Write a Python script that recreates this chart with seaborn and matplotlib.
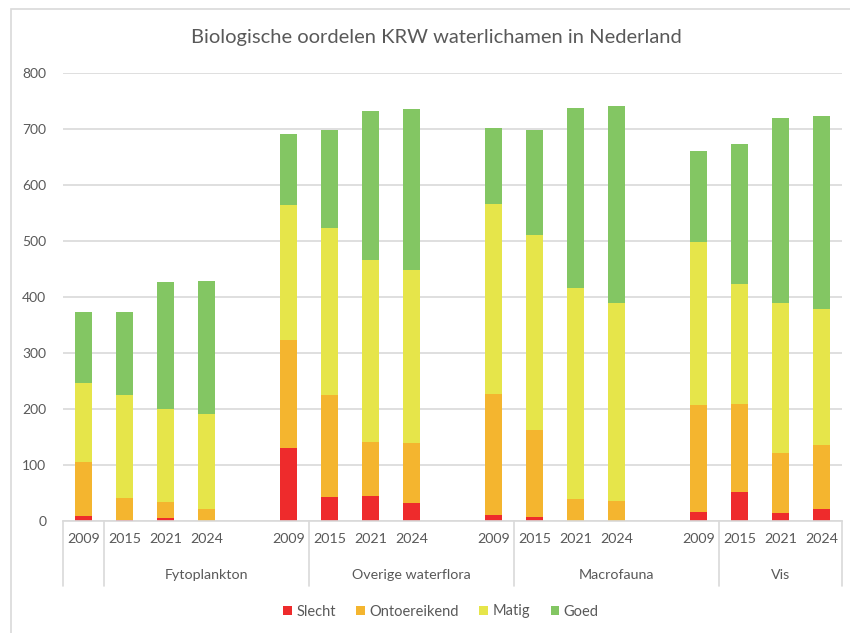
"""
Biologische oordelen KRW waterlichamen in Nederland
Stacked bar chart (seaborn)
"""

# ==========================
# Import Libraries
# ==========================

import numpy as np
import pandas as pd
import matplotlib.pyplot as plt
import matplotlib.transforms as mtransforms
from matplotlib.patches import Patch, Rectangle
import seaborn as sns

# ==========================
# Data
# ==========================

groups = ["Fytoplankton", "Overige waterflora", "Macrofauna", "Vis"]
years = ["2009", "2015", "2021", "2024"]

slecht = [9, 2, 4, 0, 129, 42, 44, 31, 11, 7, 0, 0, 16, 51, 14, 21]
ontoereikend = [95, 39, 30, 21, 193, 182, 97, 108, 215, 155, 39, 36, 190, 158, 107, 115]
matig = [142, 183, 165, 170, 241, 299, 324, 309, 339, 349, 377, 352, 292, 214, 267, 242]
goed = [127, 149, 227, 237, 128, 175, 267, 287, 137, 187, 321, 352, 163, 250, 331, 344]

labels = ["Slecht", "Ontoereikend", "Matig", "Goed"]
colors = ["#EE2B2C", "#F4B52F", "#E6E54A", "#83C663"]

# ==========================
# Build table
# ==========================

pos = [g * 5 + i for g in range(len(groups)) for i in range(len(years))]

df = pd.DataFrame({
    "pos": pos,
    "year": years * len(groups),
    "Slecht": slecht,
    "Ontoereikend": ontoereikend,
    "Matig": matig,
    "Goed": goed,
})

cum = df[labels].cumsum(axis=1)

# ==========================
# Plot
# ==========================

sns.set_theme(style="white")
plt.rcParams["font.family"] = ["Lato", "DejaVu Sans"]

text_color = "#595959"
line_color = "#D9D9D9"

fig = plt.figure(figsize=(8.5, 6.33), dpi=100)
ax = fig.add_axes([63 / 850, (633 - 520.7) / 633, 779 / 850, 448 / 633])

# draw from the top layer down so every layer sits on the one below
for name, color in zip(labels[::-1], colors[::-1]):
    sns.barplot(
        x=df["pos"],
        y=cum[name],
        color=color,
        width=0.41,
        native_scale=True,
        errorbar=None,
        saturation=1,
        linewidth=0,
        ax=ax,
    )

ax.set_xlim(-0.5, 18.5)
ax.set_ylim(0, 800)
ax.set_yticks(np.arange(0, 801, 100))
ax.yaxis.grid(True, color=line_color, linewidth=1.2)
ax.set_axisbelow(True)
ax.tick_params(axis="y", length=0, pad=12, labelsize=10, labelcolor=text_color)

ax.set_xticks(df["pos"])
ax.set_xticklabels(df["year"])
ax.tick_params(axis="x", length=0, pad=9, labelsize=10.3, labelcolor=text_color)

ax.set_xlabel("")
ax.set_ylabel("")

for side in ["left", "right", "top"]:
    ax.spines[side].set_visible(False)
ax.spines["bottom"].set_color(line_color)
ax.spines["bottom"].set_linewidth(1.2)

# ==========================
# Multi-level category axis
# ==========================

trans = mtransforms.blended_transform_factory(ax.transData, ax.transAxes)

bounds = [-0.5, 0.5, 5.5, 10.5, 15.5, 18.5]
for b in bounds:
    ax.plot([b, b], [0, -0.146], transform=trans, color=line_color,
            linewidth=1.2, clip_on=False)

for name, left, right in zip(groups, bounds[1:-1], bounds[2:]):
    ax.text((left + right) / 2, -0.121, name, transform=trans,
            ha="center", va="center", fontsize=10.3, color=text_color)

# ==========================
# Title, legend, frame
# ==========================

fig.text(436 / 850, 1 - 38 / 633,
         "Biologische oordelen KRW waterlichamen in Nederland",
         ha="center", va="center", fontsize=14.5, color=text_color)

handles = [Patch(facecolor=c, edgecolor="none", label=l)
           for l, c in zip(labels, colors)]
fig.legend(
    handles=handles,
    loc="center",
    bbox_to_anchor=(441 / 850, 1 - 611.5 / 633),
    ncol=4,
    frameon=False,
    fontsize=10.5,
    labelcolor=text_color,
    handlelength=0.6,
    handleheight=0.6,
    handletextpad=0.3,
    columnspacing=1.4,
)

fig.patches.append(Rectangle(
    (11 / 850, -0.05), 1.0, 1 - 9 / 633 + 0.05,
    transform=fig.transFigure, fill=False,
    edgecolor=line_color, linewidth=1.2,
))

plt.savefig("out.png", dpi=100)
plt.close()
